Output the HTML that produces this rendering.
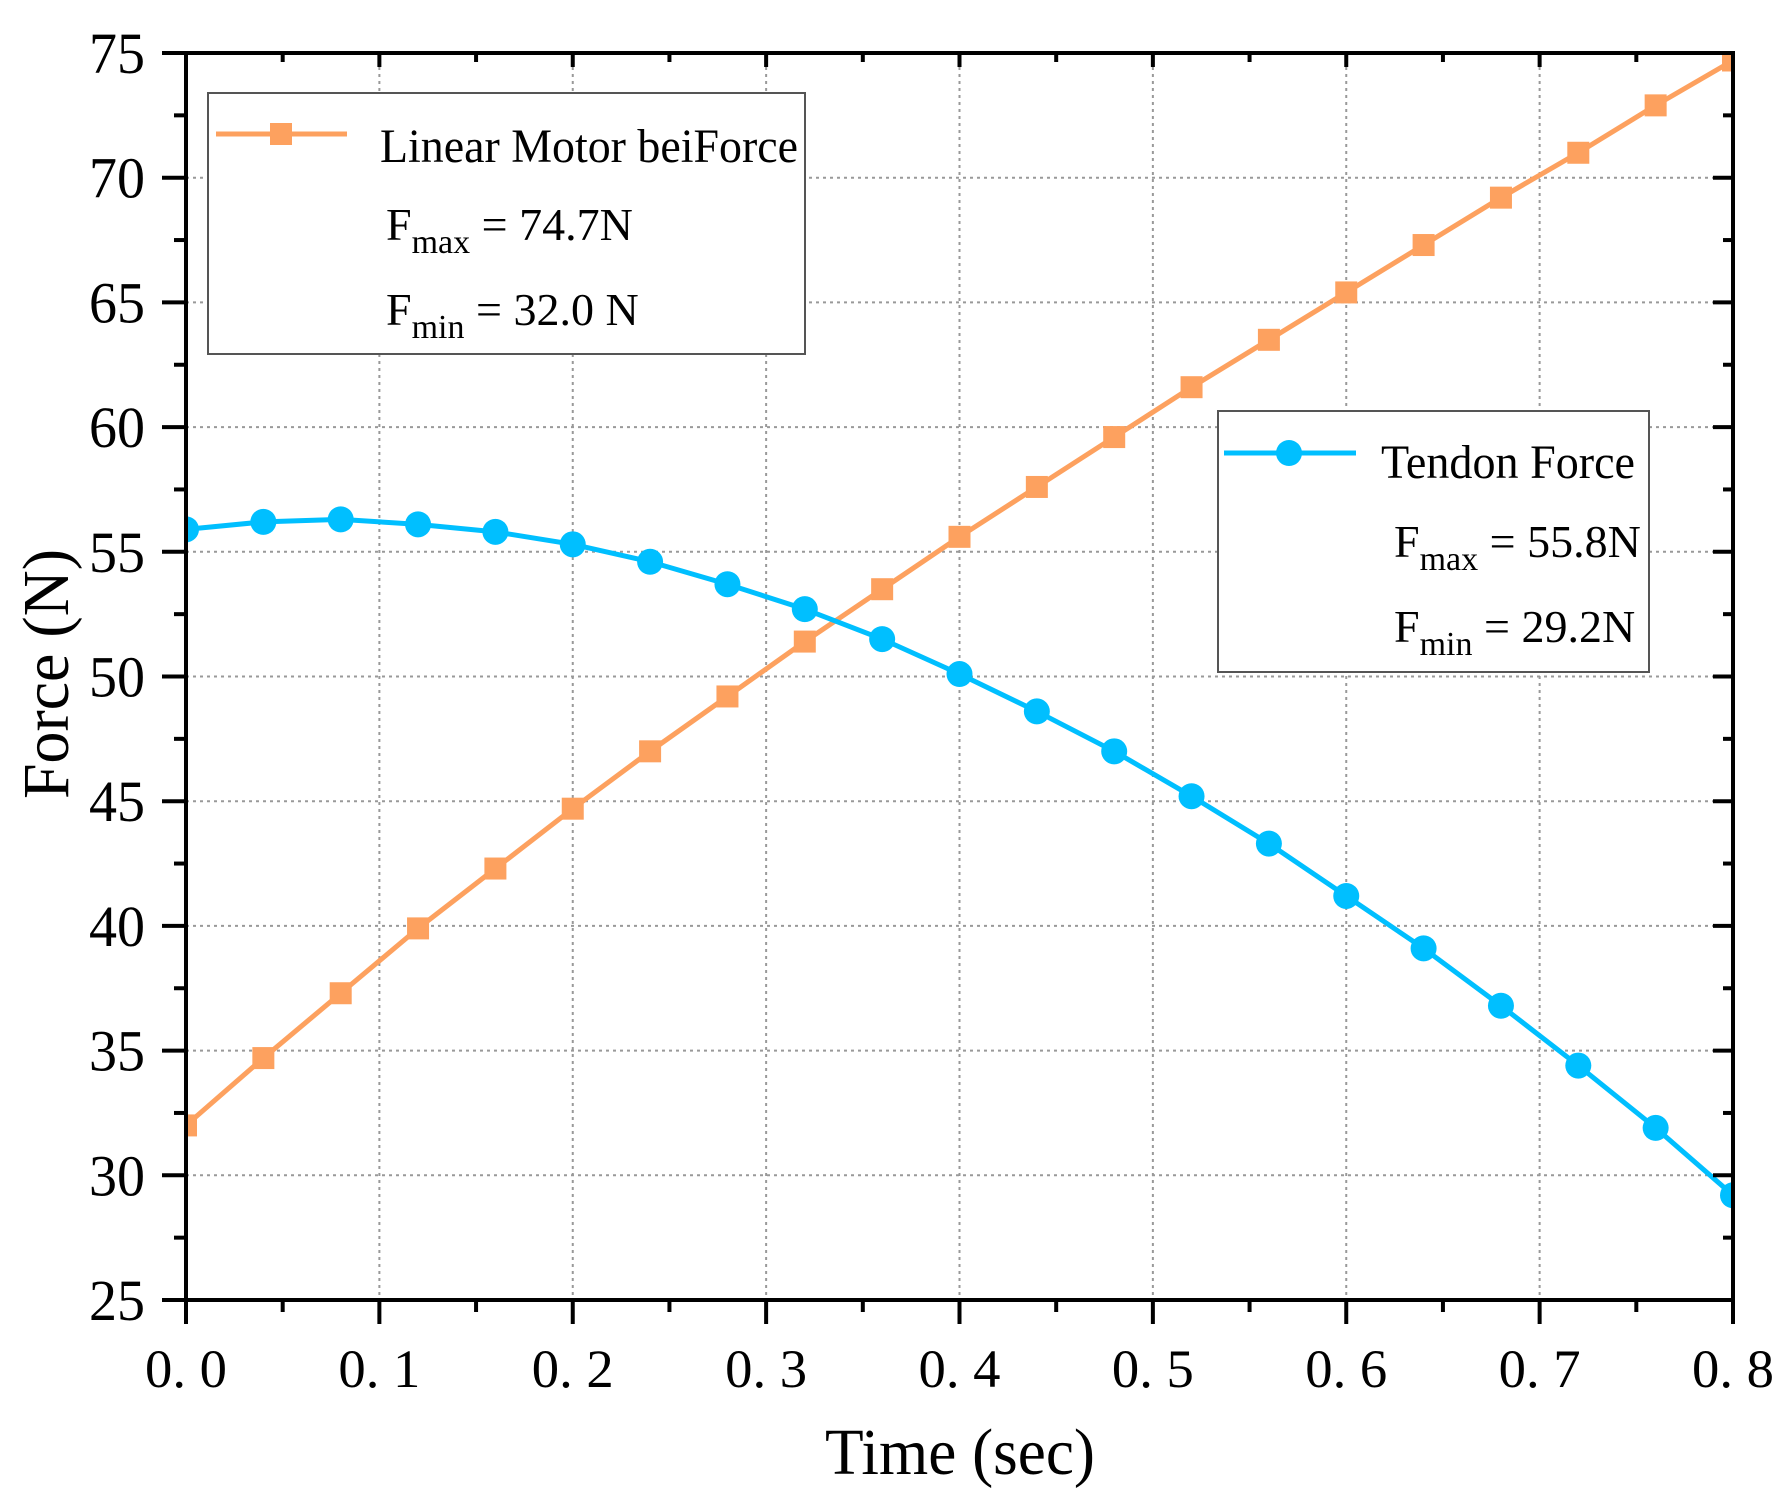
<!DOCTYPE html>
<html><head><meta charset="utf-8"><style>
body{margin:0;background:#fff}
svg{display:block}
text{font-family:"Liberation Serif","Noto Serif CJK SC",serif;fill:#000}
</style></head><body>
<svg id="chart" width="1786" height="1497" viewBox="0 0 1786 1497" xmlns="http://www.w3.org/2000/svg">
<defs><clipPath id="plotclip"><rect x="186" y="53" width="1547" height="1247"/></clipPath></defs>
<g id="grid"></g>
<g id="series" clip-path="url(#plotclip)"></g>
<g id="axes"></g>
<g>
<rect x="208" y="93" width="597" height="261" fill="#fff" stroke="#555" stroke-width="2"/>
<line x1="216" y1="134" x2="347" y2="134" stroke="#FDA15F" stroke-width="5"/>
<rect x="270" y="123" width="22" height="22" fill="#FDA15F"/>
<text x="380" y="162" font-size="48" textLength="418" lengthAdjust="spacingAndGlyphs">Linear Motor beiForce</text>
<text x="386" y="240" font-size="46">F<tspan font-size="34" dy="13">max</tspan><tspan dy="-13"> = 74.7N</tspan></text>
<text x="386" y="325" font-size="46">F<tspan font-size="34" dy="13">min</tspan><tspan dy="-13"> = 32.0 N</tspan></text>
</g>
<g>
<rect x="1218" y="411" width="431" height="261" fill="#fff" stroke="#555" stroke-width="2"/>
<line x1="1224" y1="453" x2="1356" y2="453" stroke="#00BFFF" stroke-width="5"/>
<circle cx="1289" cy="453" r="13" fill="#00BFFF"/>
<text x="1381" y="478" font-size="48" textLength="254" lengthAdjust="spacingAndGlyphs">Tendon Force</text>
<text x="1394" y="557" font-size="46">F<tspan font-size="34" dy="13">max</tspan><tspan dy="-13"> = 55.8N</tspan></text>
<text x="1394" y="642" font-size="46">F<tspan font-size="34" dy="13">min</tspan><tspan dy="-13"> = 29.2N</tspan></text>
</g>
<text x="960" y="1474" font-size="66" text-anchor="middle" textLength="270" lengthAdjust="spacingAndGlyphs">Time (sec)</text>
<text transform="translate(68,674) rotate(-90)" font-size="66" text-anchor="middle" textLength="250" lengthAdjust="spacingAndGlyphs">Force (N)</text>
</svg>
<script>
const times=[0,0.04,0.08,0.12,0.16,0.2,0.24,0.28,0.32,0.36,0.4,0.44,0.48,0.52,0.56,0.6,0.64,0.68,0.72,0.76,0.8];
const motorForce=[32.0,34.7,37.3,39.9,42.3,44.7,47.0,49.2,51.4,53.5,55.6,57.6,59.6,61.6,63.5,65.4,67.3,69.2,71.0,72.9,74.7];
const tendonForce=[55.9,56.2,56.3,56.1,55.8,55.3,54.6,53.7,52.7,51.5,50.1,48.6,47.0,45.2,43.3,41.2,39.1,36.8,34.4,31.9,29.2];
const xTicks=[0,0.1,0.2,0.3,0.4,0.5,0.6,0.7,0.8];
const xTickLabels=["0. 0","0. 1","0. 2","0. 3","0. 4","0. 5","0. 6","0. 7","0. 8"];
const yTicks=[25,30,35,40,45,50,55,60,65,70,75];
const yTickLabels=["25","30","35","40","45","50","55","60","65","70","75"];
const NS="http://www.w3.org/2000/svg";
const X0=186,X1=1733,Y0=1300,Y1=53;
function sx(v){return X0+(v-0)/(0.8-0)*(X1-X0);}
function sy(v){return Y0-(v-25)/(75-25)*(Y0-Y1);}
function mk(tag,attrs,parent){const e=document.createElementNS(NS,tag);for(const k in attrs)e.setAttribute(k,attrs[k]);parent.appendChild(e);return e;}
const grid=document.getElementById('grid'),axes=document.getElementById('axes'),ser=document.getElementById('series');
xTicks.forEach((t,i)=>{
  if(i>0&&i<xTicks.length-1){const g=mk('line',{x1:sx(t),y1:Y1,x2:sx(t),y2:Y0,stroke:'#999','stroke-width':2,'stroke-dasharray':'3,4'},grid);
  
  }
  mk('line',{x1:sx(t),y1:Y0,x2:sx(t),y2:Y0+24,stroke:'#000','stroke-width':4},axes);
  mk('line',{x1:sx(t),y1:Y1,x2:sx(t),y2:Y1+14,stroke:'#000','stroke-width':4},axes);
  if(i<xTicks.length-1){const m=sx(t+0.05);
    mk('line',{x1:m,y1:Y0,x2:m,y2:Y0+12,stroke:'#000','stroke-width':4},axes);
    mk('line',{x1:m,y1:Y1,x2:m,y2:Y1+9,stroke:'#000','stroke-width':4},axes);}
  const tx=mk('text',{x:sx(t),y:1387,'font-size':54,'text-anchor':'middle',textLength:82,lengthAdjust:'spacingAndGlyphs'},axes);
  tx.textContent=xTickLabels[i];
  
  
});
yTicks.forEach((t,i)=>{
  if(i>0&&i<yTicks.length-1){const g=mk('line',{x1:X0,y1:sy(t),x2:X1,y2:sy(t),stroke:'#999','stroke-width':2,'stroke-dasharray':'3,4'},grid);
  
  }
  mk('line',{x1:X0-24,y1:sy(t),x2:X0,y2:sy(t),stroke:'#000','stroke-width':4},axes);
  mk('line',{x1:X1-20,y1:sy(t),x2:X1,y2:sy(t),stroke:'#000','stroke-width':4},axes);
  if(i<yTicks.length-1){const m=sy(t+2.5);
    mk('line',{x1:X0-12,y1:m,x2:X0,y2:m,stroke:'#000','stroke-width':4},axes);
    mk('line',{x1:X1-10,y1:m,x2:X1,y2:m,stroke:'#000','stroke-width':4},axes);}
  const tx=mk('text',{x:145,y:sy(t)+20,'font-size':58,'text-anchor':'end',textLength:56,lengthAdjust:'spacingAndGlyphs'},axes);
  tx.textContent=yTickLabels[i];
  
  
});
mk('rect',{x:X0,y:Y1,width:X1-X0,height:Y0-Y1,fill:'none',stroke:'#000','stroke-width':4},axes);
function drawSeries(vals,color,shape,name){
  const pts=times.map((t,i)=>sx(t)+','+sy(vals[i])).join(' ');
  const pl=mk('polyline',{points:pts,fill:'none',stroke:color,'stroke-width':5,'stroke-linejoin':'round'},ser);
  
  
  times.forEach((t,i)=>{
    let m;
    if(shape==='square')m=mk('rect',{x:sx(t)-11,y:sy(vals[i])-11,width:22,height:22,fill:color},ser);
    else m=mk('circle',{cx:sx(t),cy:sy(vals[i]),r:13,fill:color},ser);
    
    
  });
}
drawSeries(motorForce,'#FDA15F','square','motor-force');
drawSeries(tendonForce,'#00BFFF','circle','tendon-force');
</script>
</body></html>
